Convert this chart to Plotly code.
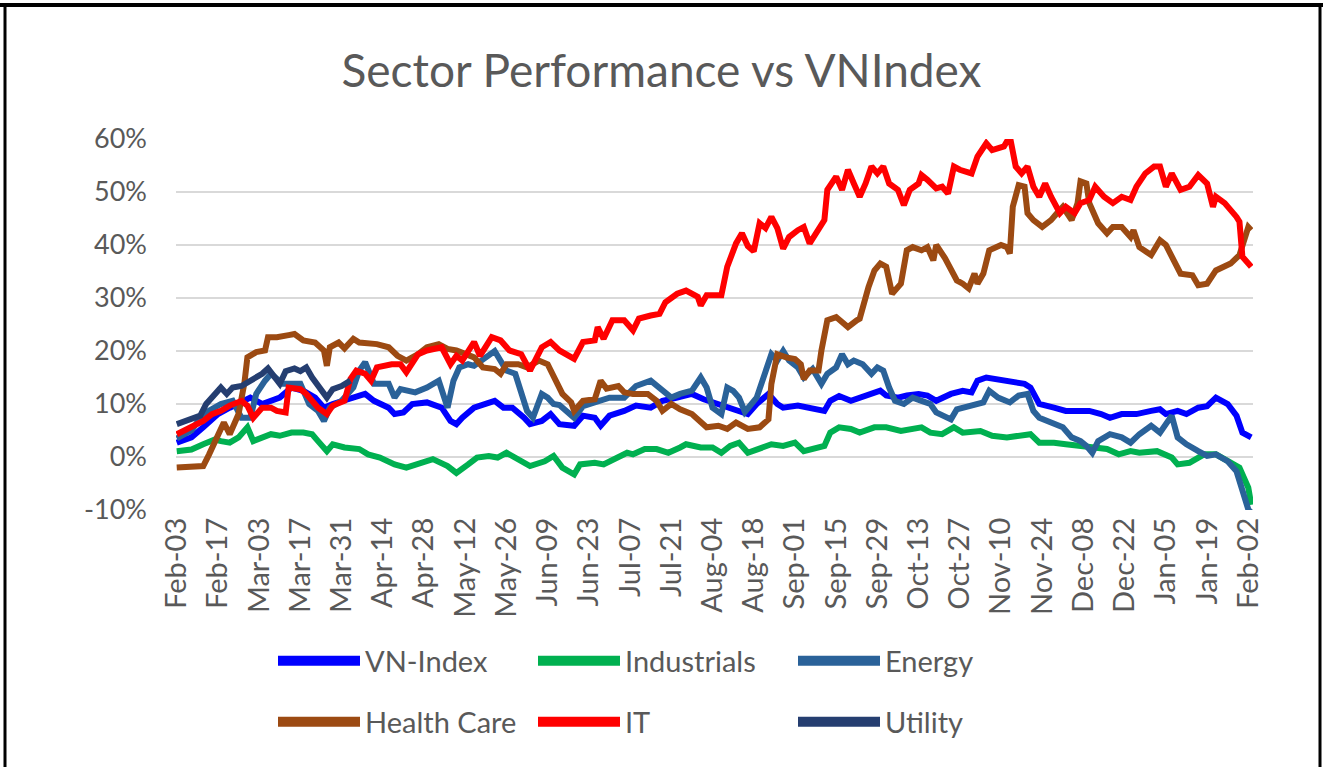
import pandas as pd
import plotly.graph_objects as go

# ---------------- data (day offset from Feb-03, % change) ----------------
START = "2021-02-03"
TITLE = "Sector Performance vs VNIndex"
Y_TICKS = [-10, 0, 10, 20, 30, 40, 50, 60]
Y_TICK_TEXT = ["-10%", "0%", "10%", "20%", "30%", "40%", "50%", "60%"]

VN_INDEX = [(0, 2.7), (5, 3.7), (9, 5.6), (14, 8.1), (18, 9.3), (23, 10.6), (25, 11.2), (29, 10.0), (32, 10.6),
            (35, 11.2), (39, 13.1), (43, 12.5), (47, 11.2), (50, 9.3), (53, 10.0), (57, 10.6), (61, 11.2),
            (64, 11.9), (67, 10.6), (72, 9.3), (74, 8.1), (77, 8.4), (80, 10.0), (85, 10.3), (90, 9.3),
            (93, 6.8), (95, 6.2), (97, 7.4), (101, 9.3), (106, 10.3), (108, 10.6), (111, 9.3), (114, 9.3),
            (118, 7.4), (120, 6.2), (124, 6.8), (127, 8.1), (130, 6.2), (135, 5.9), (138, 7.8), (142, 7.4),
            (144, 5.9), (147, 7.8), (152, 8.7), (156, 9.7), (161, 9.3), (165, 10.6), (170, 11.2), (175, 11.9),
            (179, 10.9), (182, 10.3), (186, 9.7), (190, 8.7), (194, 8.1), (197, 10.0), (201, 11.9), (204, 10.0),
            (206, 9.3), (211, 9.7), (215, 9.3), (220, 8.7), (222, 10.6), (225, 11.5), (229, 10.6), (232, 11.2),
            (236, 11.9), (239, 12.5), (241, 11.6), (245, 11.2), (248, 11.6), (252, 11.9), (255, 11.6),
            (258, 10.6), (263, 11.9), (267, 12.5), (270, 12.2), (272, 14.4), (275, 15.0), (279, 14.7),
            (283, 14.4), (288, 13.8), (290, 13.1), (293, 10.0), (298, 9.3), (302, 8.7), (306, 8.7), (310, 8.7),
            (314, 8.1), (317, 7.4), (321, 8.1), (326, 8.1), (331, 8.7), (334, 9.0), (336, 8.1), (340, 8.7),
            (343, 8.1), (347, 9.3), (350, 9.6), (353, 11.2), (357, 10.0), (360, 7.8), (362, 4.6), (365, 3.7)]

INDUSTRIALS = [(0, 1.1), (5, 1.4), (9, 2.4), (13, 3.3), (15, 3.0), (18, 2.7), (21, 3.7), (24, 5.6), (26, 3.0),
               (29, 3.7), (32, 4.3), (35, 4.0), (39, 4.6), (43, 4.6), (46, 4.3), (48, 3.0), (51, 1.1), (53, 2.4),
               (57, 1.8), (62, 1.5), (65, 0.5), (69, -0.1), (74, -1.4), (78, -2.0), (83, -1.1), (87, -0.4),
               (92, -1.7), (95, -3.0), (99, -1.4), (102, -0.1), (106, 0.2), (109, -0.1), (112, 0.8), (116, -0.4),
               (120, -1.7), (125, -0.8), (128, 0.2), (131, -2.0), (135, -3.3), (137, -1.4), (142, -1.1),
               (145, -1.4), (150, -0.1), (153, 0.8), (155, 0.5), (159, 1.5), (163, 1.5), (167, 0.8), (171, 1.8),
               (173, 2.4), (178, 1.8), (182, 1.8), (185, 0.8), (188, 2.1), (191, 2.7), (194, 0.8), (197, 1.4),
               (202, 2.4), (206, 2.1), (210, 2.7), (213, 1.1), (216, 1.5), (220, 2.1), (222, 4.6), (225, 5.6),
               (229, 5.3), (232, 4.6), (237, 5.6), (241, 5.6), (246, 4.9), (249, 5.3), (253, 5.6), (256, 4.6),
               (260, 4.3), (264, 5.6), (267, 4.6), (273, 4.9), (277, 4.0), (282, 3.7), (287, 4.0), (290, 4.3),
               (293, 2.7), (298, 2.7), (302, 2.4), (307, 2.1), (311, 1.8), (316, 1.5), (320, 0.5), (324, 1.1),
               (327, 0.8), (333, 1.1), (338, -0.1), (340, -1.4), (344, -1.1), (349, 0.5), (353, 0.5), (358, -1.1),
               (361, -2.0), (364, -5.8), (365, -9.0)]

ENERGY = [(0, 3.5), (5, 5.0), (9, 8.1), (15, 10.0), (19, 10.6), (22, 7.4), (25, 7.4), (27, 11.9), (30, 14.4),
          (32, 15.7), (36, 13.8), (42, 13.8), (45, 10.0), (48, 8.7), (50, 6.8), (52, 9.3), (56, 10.6), (60, 13.1),
          (62, 16.3), (64, 17.9), (67, 13.8), (72, 13.8), (74, 11.2), (76, 12.8), (81, 12.2), (85, 13.1),
          (89, 14.4), (92, 9.3), (94, 14.4), (96, 16.9), (99, 17.5), (101, 17.2), (108, 20.0), (110, 18.2),
          (112, 16.3), (115, 15.7), (117, 11.9), (119, 8.7), (121, 7.4), (124, 11.9), (126, 11.2), (128, 10.0),
          (130, 9.8), (135, 7.4), (138, 9.6), (143, 10.6), (147, 11.2), (152, 11.2), (156, 13.4), (161, 14.4),
          (164, 13.1), (168, 11.2), (171, 11.9), (175, 12.5), (178, 15.0), (180, 13.1), (182, 9.3), (185, 8.1),
          (187, 13.1), (189, 12.5), (191, 11.2), (193, 8.5), (197, 11.2), (199, 14.4), (202, 19.4), (204, 18.2),
          (206, 20.0), (208, 18.2), (211, 16.9), (213, 15.0), (216, 16.6), (219, 13.8), (221, 15.7), (224, 16.9),
          (226, 19.4), (228, 17.5), (230, 18.2), (233, 17.5), (236, 15.7), (238, 16.9), (240, 16.3), (242, 13.1),
          (244, 10.6), (247, 10.0), (250, 11.2), (253, 10.6), (256, 10.0), (258, 8.4), (263, 7.1), (265, 9.0),
          (270, 9.7), (274, 10.3), (276, 12.5), (279, 11.2), (283, 10.3), (286, 11.6), (289, 11.9), (291, 8.7),
          (293, 7.4), (298, 6.4), (301, 5.6), (304, 3.7), (307, 3.0), (309, 2.1), (311, 0.8), (313, 3.0),
          (317, 4.3), (321, 3.7), (324, 2.7), (327, 4.3), (331, 5.9), (334, 4.6), (338, 7.8), (340, 3.7),
          (343, 2.4), (347, 1.1), (350, 0.2), (353, 0.5), (357, -0.8), (360, -2.7), (362, -6.4), (364, -9.9),
          (365, -10.5)]

HEALTH_CARE = [(0, -2.0), (9, -1.7), (11, 0.5), (14, 4.3), (16, 6.5), (18, 4.3), (21, 8.1), (23, 14.0), (24, 18.8),
               (27, 19.8), (30, 20.1), (31, 22.6), (34, 22.6), (38, 23.0), (40, 23.2), (43, 22.0), (47, 21.6),
               (50, 20.1), (51, 17.2), (52, 20.7), (55, 21.6), (57, 20.5), (60, 22.3), (62, 21.6), (68, 21.3),
               (72, 20.7), (75, 19.1), (78, 18.2), (82, 19.4), (85, 20.7), (89, 21.3), (92, 20.4), (95, 20.1),
               (101, 18.8), (104, 16.9), (108, 16.6), (110, 15.7), (112, 17.5), (116, 17.5), (119, 16.9),
               (123, 18.2), (126, 17.5), (128, 15.0), (131, 11.9), (134, 10.3), (135, 8.7), (138, 10.6),
               (142, 10.9), (144, 14.4), (146, 12.9), (150, 13.4), (152, 12.2), (155, 11.9), (160, 11.9),
               (163, 10.6), (165, 8.7), (168, 10.0), (171, 9.0), (175, 8.1), (178, 6.8), (180, 5.6), (184, 5.9),
               (187, 5.3), (190, 6.5), (194, 5.3), (198, 5.6), (201, 7.1), (202, 13.8), (204, 19.4), (207, 18.8),
               (210, 18.5), (212, 17.5), (213, 14.7), (215, 16.3), (218, 16.3), (219, 20.1), (221, 25.8),
               (224, 26.4), (228, 24.5), (231, 25.8), (232, 26.1), (235, 32.1), (237, 35.2), (239, 36.5),
               (241, 35.9), (243, 30.8), (246, 32.7), (248, 39.0), (250, 39.6), (253, 39.0), (255, 39.6),
               (257, 37.1), (258, 40.0), (261, 37.5), (263, 35.2), (265, 33.3), (267, 32.7), (269, 31.8),
               (271, 34.6), (272, 32.7), (274, 34.6), (276, 39.0), (280, 40.0), (282, 39.6), (283, 38.4),
               (284, 47.2), (286, 51.3), (288, 51.0), (289, 46.0), (291, 44.7), (294, 43.4), (297, 44.7),
               (299, 46.0), (301, 47.2), (304, 44.7), (306, 47.9), (307, 52.0), (309, 51.6), (310, 47.9),
               (313, 44.1), (316, 42.2), (318, 43.4), (321, 43.4), (324, 41.5), (325, 42.8), (327, 39.6),
               (331, 38.1), (334, 40.9), (336, 40.0), (338, 37.8), (341, 34.6), (345, 34.3), (347, 32.4),
               (350, 32.7), (353, 35.2), (358, 36.5), (361, 38.1), (364, 43.4), (365, 42.8)]

IT = [(0, 4.3), (5, 5.6), (9, 6.8), (12, 8.1), (15, 8.7), (18, 9.7), (22, 10.6), (24, 9.7), (26, 7.4), (29, 9.3),
      (32, 9.3), (34, 8.7), (37, 8.4), (38, 13.1), (42, 12.8), (44, 11.9), (48, 9.3), (51, 8.1), (53, 9.7),
      (57, 10.6), (59, 14.7), (61, 16.3), (64, 15.7), (66, 14.4), (68, 16.9), (73, 17.5), (76, 17.5), (78, 16.0),
      (82, 19.4), (85, 20.1), (90, 20.7), (93, 17.5), (95, 19.1), (97, 18.2), (101, 21.7), (103, 19.1),
      (107, 22.6), (110, 22.0), (113, 20.1), (117, 19.4), (120, 16.3), (124, 20.7), (127, 21.7), (130, 20.1),
      (135, 18.5), (138, 21.7), (142, 22.0), (143, 24.5), (145, 22.3), (148, 25.8), (152, 25.8), (155, 23.9),
      (157, 26.1), (161, 26.7), (164, 27.0), (166, 29.2), (170, 30.8), (173, 31.4), (177, 30.2), (178, 28.6),
      (180, 30.5), (185, 30.5), (187, 35.9), (190, 40.3), (192, 42.2), (194, 39.8), (196, 38.8), (198, 44.1),
      (200, 43.2), (202, 45.3), (204, 43.2), (206, 39.3), (208, 41.5), (211, 42.8), (213, 43.4), (215, 40.3),
      (218, 42.8), (220, 44.7), (221, 50.4), (224, 52.9), (226, 50.4), (228, 54.2), (230, 51.6), (232, 49.1),
      (234, 51.6), (236, 54.8), (238, 53.5), (240, 54.8), (242, 51.6), (245, 50.4), (247, 47.5), (249, 50.4),
      (252, 51.6), (253, 53.2), (255, 52.3), (258, 50.7), (260, 51.0), (262, 49.7), (264, 54.8), (266, 54.2),
      (270, 53.5), (272, 56.7), (275, 59.2), (277, 57.9), (281, 58.6), (283, 60.5), (285, 54.8), (287, 53.5),
      (289, 54.8), (291, 51.0), (293, 49.1), (295, 51.6), (297, 49.1), (300, 46.0), (302, 47.2), (305, 46.0),
      (307, 47.9), (310, 48.5), (312, 51.0), (315, 49.1), (318, 47.9), (321, 49.1), (324, 48.5), (326, 51.0),
      (329, 53.5), (332, 54.8), (334, 54.8), (336, 51.0), (338, 53.5), (341, 50.4), (344, 51.0), (347, 53.2),
      (350, 51.6), (352, 47.2), (353, 49.1), (356, 47.9), (360, 45.3), (361, 44.4), (362, 37.8), (364, 36.5),
      (365, 35.9)]

UTILITY = [(0, 6.2), (8, 7.8), (10, 10.0), (13, 11.9), (15, 13.1), (17, 11.9), (19, 13.1), (22, 13.4), (25, 14.4),
           (29, 15.7), (31, 16.7), (33, 15.0), (35, 13.8), (37, 16.2), (40, 16.7), (42, 16.2), (44, 16.9),
           (46, 15.0), (48, 13.4), (51, 11.2), (53, 12.8), (56, 13.4), (59, 14.4)]

SERIES_NAMES = ["VN-Index", "Industrials", "Energy", "Health Care", "IT", "Utility"]
SERIES_DATA = [VN_INDEX, INDUSTRIALS, ENERGY, HEALTH_CARE, IT, UTILITY]
COLORS = ["#0000FF", "#00B050", "#2A6299", "#9C4A12", "#FF0000", "#253E70"]
LEGEND_ROW = ["legend", "legend", "legend", "legend2", "legend2", "legend2"]

# ---------------- layout geometry ----------------
W, H = 1323, 767
L, R, T, B = 176, 70, 139, 257
PW, PH = W - L - R, H - T - B
FONT = "Lato"
GREY_TXT = "#595959"
GRID = "#D9D9D9"


def px_x(p):
    return (p - L) / PW


def px_y(p):
    return (H - B - p) / PH


start = pd.Timestamp(START)
x_range = [start - pd.Timedelta(hours=6), start + pd.Timedelta(days=365.6)]
DAY_MS = 86400000

fig = go.Figure()
for name, data, color in zip(SERIES_NAMES, SERIES_DATA, COLORS):
    days = [d for d, _ in data]
    vals = [v for _, v in data]
    dates = start + pd.to_timedelta(days, unit="D")
    fig.add_trace(go.Scatter(x=dates, y=vals, mode="lines", name=name, showlegend=False,
                             line=dict(color=color, width=6), hoverinfo="skip"))

# legend entries (thicker symbols as in the source)
for name, color, lg in zip(SERIES_NAMES, COLORS, LEGEND_ROW):
    fig.add_trace(go.Scatter(x=[None], y=[None], mode="lines", name=name, legend=lg,
                             line=dict(color=color, width=10), showlegend=True))

legend_common = dict(orientation="h", xanchor="left", yanchor="middle", bgcolor="rgba(0,0,0,0)",
                     font=dict(family=FONT, size=29, color=GREY_TXT), itemwidth=82,
                     entrywidth=163, entrywidthmode="pixels", traceorder="normal")

fig.update_layout(
    width=W, height=H,
    margin=dict(l=L, r=R, t=T, b=B, pad=0),
    paper_bgcolor="white", plot_bgcolor="white",
    font=dict(family=FONT, color=GREY_TXT),
    title=dict(text=TITLE, x=0.5, xref="container", xanchor="center",
               y=1 - 71 / H, yref="container", yanchor="middle",
               font=dict(family=FONT, size=46, color=GREY_TXT)),
    xaxis=dict(type="date", range=x_range, tick0=START, dtick=14 * DAY_MS, tickformat="%b-%d",
               tickangle=-90, ticks="", showgrid=False, showline=False, zeroline=False,
               tickfont=dict(family=FONT, size=29, color=GREY_TXT), ticklabelstandoff=1),
    xaxis2=dict(type="date", range=x_range, tick0=START, dtick=14 * DAY_MS, overlaying="x",
                anchor="free", position=px_y(457), side="bottom", matches="x",
                ticks="outside", ticklen=8, tickwidth=2, tickcolor=GRID, showticklabels=False,
                showgrid=False, showline=True, linecolor=GRID, linewidth=2, zeroline=False),
    yaxis=dict(range=[-10, 60], tickvals=Y_TICKS, ticktext=Y_TICK_TEXT, showgrid=True, gridcolor=GRID,
               gridwidth=2, zeroline=False, showline=False, ticks="",
               tickfont=dict(family=FONT, size=27, color=GREY_TXT), ticklabelstandoff=28),
    legend=dict(x=px_x(273), y=px_y(661), **legend_common),
    legend2=dict(x=px_x(273), y=px_y(722), **legend_common),
    shapes=[
        dict(type="line", xref="paper", yref="paper", x0=px_x(0), x1=px_x(W), y0=px_y(5), y1=px_y(5),
             line=dict(color="black", width=4)),
        dict(type="line", xref="paper", yref="paper", x0=px_x(5), x1=px_x(5), y0=px_y(3), y1=px_y(H),
             line=dict(color="black", width=3)),
        dict(type="line", xref="paper", yref="paper", x0=px_x(1320), x1=px_x(1320), y0=px_y(3), y1=px_y(H),
             line=dict(color="black", width=3)),
    ],
)

fig.write_html("out.html", config={"displayModeBar": False},
               post_script="document.body.style.margin='0px';")
